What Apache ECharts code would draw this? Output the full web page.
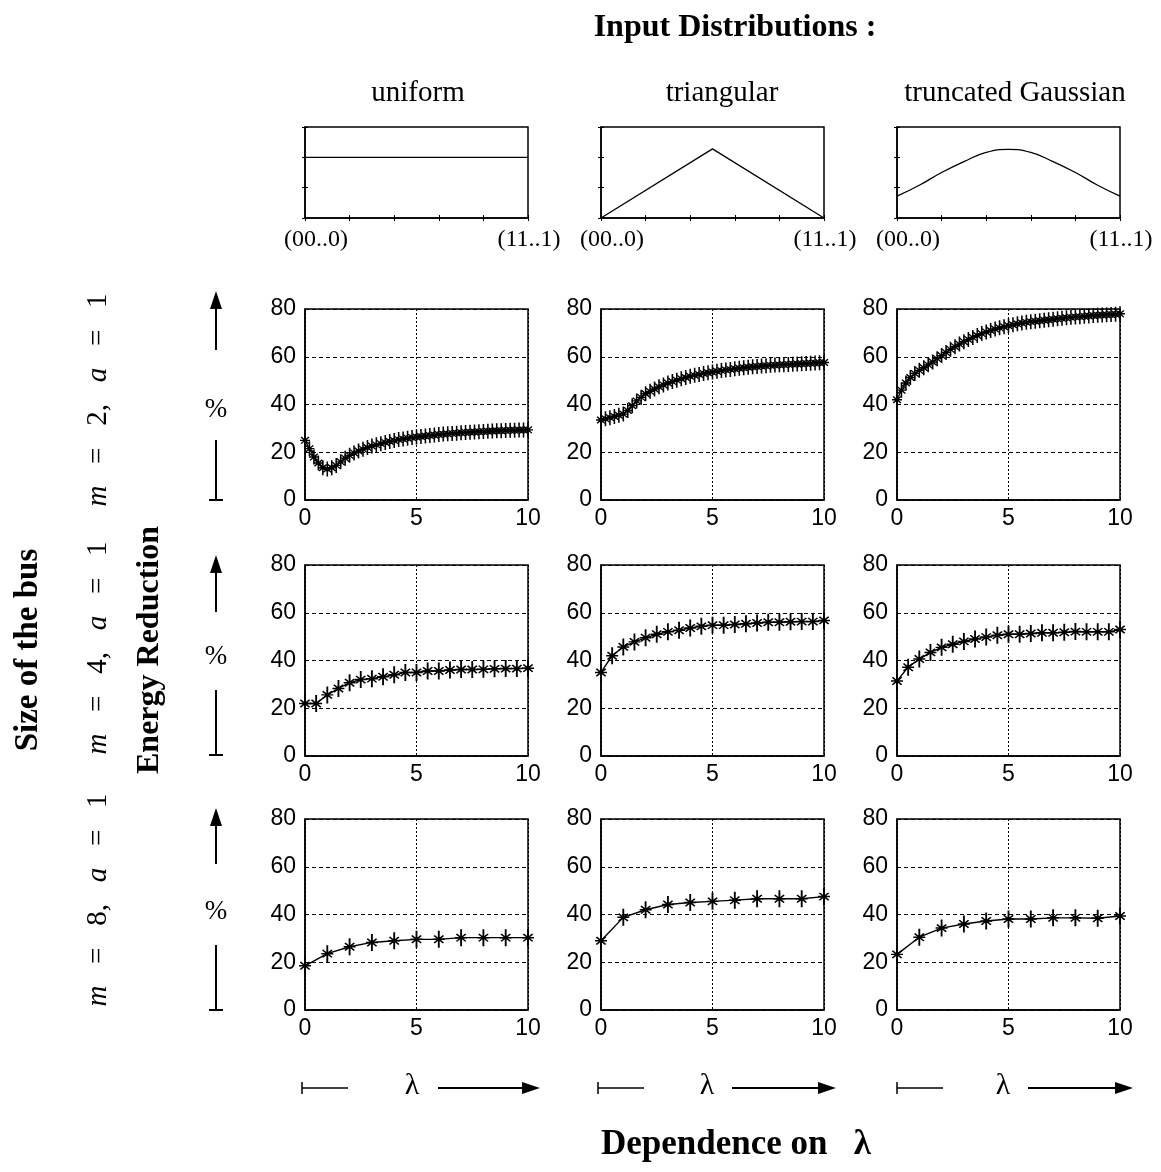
<!DOCTYPE html>
<html><head><meta charset="utf-8">
<script src="https://cdn.jsdelivr.net/npm/echarts@6/dist/echarts.min.js"></script>
<style>html,body{margin:0;padding:0;background:#fff}#c{width:1161px;height:1172px}</style>
</head><body><div id="c"></div>
<script>
// ---------------- data ----------------
const lambdaFine = [0,0.2,0.4,0.6,0.8,1,1.2,1.4,1.6,1.8,2,2.2,2.4,2.6,2.8,3,3.2,3.4,3.6,3.8,4,4.2,4.4,4.6,4.8,5,5.2,5.4,5.6,5.8,6,6.2,6.4,6.6,6.8,7,7.2,7.4,7.6,7.8,8,8.2,8.4,8.6,8.8,9,9.2,9.4,9.6,9.8,10];
const lambdaMid = [0,0.5,1,1.5,2,2.5,3,3.5,4,4.5,5,5.5,6,6.5,7,7.5,8,8.5,9,9.5,10];
const lambdaCoarse = [0,1,2,3,4,5,6,7,8,9,10];

const uniformM2 = [25,21.5,18,15.5,13.5,13,13.5,14.5,16,17.5,18.7,19.7,20.5,21.3,22,22.6,23.1,23.6,24.1,24.5,24.9,25.3,25.6,25.9,26.2,26.4,26.6,26.8,27,27.2,27.4,27.6,27.7,27.9,28,28.2,28.3,28.4,28.5,28.6,28.7,28.8,28.9,29,29,29.1,29.2,29.2,29.3,29.3,29.4];
const triangularM2 = [33.5,34,34.5,35,35.5,36,37.5,39.5,41.5,43,44.5,45.5,46.5,47.4,48.2,49,49.6,50.2,50.8,51.3,51.8,52.2,52.6,53,53.3,53.6,53.9,54.2,54.5,54.7,55,55.2,55.4,55.6,55.8,55.9,56.1,56.2,56.4,56.5,56.6,56.7,56.8,56.9,57,57.1,57.2,57.3,57.4,57.5,57.6];
const gaussianM2 = [42,46,49,51.3,53,54.3,55.4,56.6,57.8,59.2,60.5,61.8,63.1,64.2,65.3,66.3,67.2,68.1,68.9,69.7,70.4,71,71.6,72.1,72.6,73,73.4,73.8,74.1,74.4,74.7,74.9,75.1,75.3,75.5,75.7,75.9,76.1,76.3,76.5,76.7,76.8,77,77.1,77.3,77.4,77.5,77.6,77.7,77.8,78];

const uniformM4 = [22,22,25.6,28.3,30.7,32,32.4,33.2,34,35,35,35.6,35.6,36,36.2,36.2,36.3,36.5,36.6,36.6,36.8];
const triangularM4 = [35,42,45.7,47.8,49.5,51,52,52.7,53.6,54.3,54.8,54.8,55.1,55.4,55.7,56,56,56.2,56.3,56.3,56.8];
const gaussianM4 = [31.4,37.2,40.6,43.4,45.5,46.8,48,49,49.8,50.6,51,51,51.3,51.6,51.6,51.8,52.1,52,52,52,53];

const uniformM8 = [18.5,23.6,26.5,28.3,29,29.6,29.6,30.3,30.3,30.3,30.3];
const triangularM8 = [29,38.8,42,44.2,45,45.5,46,46.6,46.6,46.6,47.5];
const gaussianM8 = [23.3,30.5,34.3,36,37.3,38.1,38.1,38.6,38.6,38.4,39.4];

const xTicks = [0,5,10];
const yTicks = [0,20,40,60,80];

// input distributions (top row)
const distNames = ['uniform','triangular','truncated Gaussian'];
const distTickLabels = ['(00..0)','(11..1)'];
const uniformPdfX = [0,1];
const uniformPdfY = [1,1];
const triangularPdfX = [0,0.5,1];
const triangularPdfY = [0,1.14,0];
const gaussianPdfX = [0,0.1,0.2,0.3,0.4,0.5,0.6,0.7,0.8,0.9,1];
const gaussianPdfY = [0.36,0.54,0.75,0.93,1.08,1.13,1.08,0.93,0.75,0.54,0.36];

const busSizes = ['2','4','8'];

// ---------------- layout / style ----------------
const colLeft = [305,601,897];
const rowTop = [309,565,819];
const plotW = 223, plotH = 191;
const distTop = 127, distH = 91;
const SERIF = '"Liberation Serif","Times New Roman",serif';
const SANS = '"Liberation Sans",Arial,Helvetica,sans-serif';
const STAR = 'path://M4.3,0L5.7,0L5.7,16L4.3,16Z M0.5,7.3L9.5,7.3L9.5,8.7L0.5,8.7Z M1.04,4.96L1.96,4.04L8.96,11.04L8.04,11.96Z M8.04,4.04L8.96,4.96L1.96,11.96L1.04,11.04Z';

const panels = [
  [[lambdaFine,uniformM2],[lambdaFine,triangularM2],[lambdaFine,gaussianM2]],
  [[lambdaMid,uniformM4],[lambdaMid,triangularM4],[lambdaMid,gaussianM4]],
  [[lambdaCoarse,uniformM8],[lambdaCoarse,triangularM8],[lambdaCoarse,gaussianM8]]
];
const dists = [[uniformPdfX,uniformPdfY,false],[triangularPdfX,triangularPdfY,false],[gaussianPdfX,gaussianPdfY,true]];

const grids=[], xAxes=[], yAxes=[], series=[];
function addGrid(g){
  grids.push(Object.assign({show:true,borderColor:'#000',borderWidth:1.5,backgroundColor:'#fff',containLabel:false,outerBoundsMode:'none'},g));
  return grids.length-1;
}
const zip = (xs,ys)=>xs.map((x,k)=>[x,ys[k]]);

// main 3x3 panels
for(let r=0;r<3;r++){
  for(let c=0;c<3;c++){
    const gi = addGrid({left:colLeft[c],top:rowTop[r],width:plotW,height:plotH});
    const xi = xAxes.push({type:'value',gridIndex:gi,min:xTicks[0],max:xTicks[xTicks.length-1],interval:xTicks[1]-xTicks[0],
      axisLine:{show:true,onZero:false,lineStyle:{color:'#000',width:1.5}},
      axisTick:{show:false},
      axisLabel:{color:'#000',fontSize:23,fontFamily:SANS,margin:7},
      splitLine:{show:true,lineStyle:{color:'#000',width:1,type:[2,2]}}})-1;
    const yi = yAxes.push({type:'value',gridIndex:gi,min:yTicks[0],max:yTicks[yTicks.length-1],interval:yTicks[1]-yTicks[0],
      axisLine:{show:true,onZero:false,lineStyle:{color:'#000',width:1.5}},
      axisTick:{show:false},
      axisLabel:{color:'#000',fontSize:23,fontFamily:SANS,margin:9},
      splitLine:{show:true,lineStyle:{color:'#000',width:1,type:[4,3]}}})-1;
    const [xs,ys] = panels[r][c];
    series.push({type:'line',xAxisIndex:xi,yAxisIndex:yi,data:zip(xs,ys),
      symbol:STAR,symbolSize:r===0?[10,15]:[12,17],showAllSymbol:true,
      itemStyle:{color:'#000'},lineStyle:{color:'#000',width:1.4},silent:true,z:3});
  }
}

// top distribution panels
for(let c=0;c<3;c++){
  const gi = addGrid({left:colLeft[c],top:distTop,width:plotW,height:distH});
  const xi = xAxes.push({type:'value',gridIndex:gi,min:0,max:1,interval:0.2,position:'bottom',
    axisLine:{show:true,onZero:false,lineStyle:{color:'#000',width:1.5}},
    axisTick:{show:true,inside:true,length:3,lineStyle:{color:'#000'}},
    axisLabel:{show:false},
    splitLine:{show:false}})-1;
  xAxes.push({type:'value',gridIndex:gi,min:0,max:1,interval:0.2,position:'top',
    axisLine:{show:false},axisTick:{show:true,inside:true,length:3,lineStyle:{color:'#000'}},
    axisLabel:{show:false},splitLine:{show:false}});
  const yi = yAxes.push({type:'value',gridIndex:gi,min:0,max:1.5,interval:0.5,position:'left',
    axisLine:{show:true,onZero:false,lineStyle:{color:'#000',width:1.5}},
    axisTick:{show:true,inside:true,length:3,lineStyle:{color:'#000'}},
    axisLabel:{show:false},splitLine:{show:false}})-1;
  yAxes.push({type:'value',gridIndex:gi,min:0,max:1.5,interval:0.5,position:'right',
    axisLine:{show:false},axisTick:{show:true,inside:true,length:3,lineStyle:{color:'#000'}},
    axisLabel:{show:false},splitLine:{show:false}});
  const [dx,dy,smooth] = dists[c];
  series.push({type:'line',xAxisIndex:xi,yAxisIndex:yi,data:zip(dx,dy),smooth:smooth,
    symbol:'none',lineStyle:{color:'#000',width:1.3},silent:true});
}

// ---------------- annotations ----------------
const g = [];
function txt(x,y,text,size,opts){
  g.push(Object.assign({type:'text',x:x,y:y,silent:true,
    style:Object.assign({text:text,fontSize:size,fontFamily:SERIF,fill:'#000',align:'center',verticalAlign:'middle'},(opts&&opts.style)||{})},
    (opts&&opts.el)||{}));
}
function line(x1,y1,x2,y2,w){g.push({type:'line',silent:true,shape:{x1,y1,x2,y2},style:{stroke:'#000',lineWidth:w||2}});}
function tri(pts){g.push({type:'polygon',silent:true,shape:{points:pts},style:{fill:'#000'}});}

txt(735,28,'Input Distributions :',32,{style:{fontWeight:'bold'}});
const distLabelX = [418,722,1015];
distNames.forEach((n,i)=>txt(distLabelX[i],93,n,29));
// endpoint labels of the input-distribution boxes
for(let c=0;c<3;c++){
  txt(colLeft[c]+11,240,distTickLabels[0],24);
  txt(colLeft[c]+plotW+1,240,distTickLabels[1],24);
}

txt(28,650,'Size of the bus',33,{style:{fontWeight:'bold'},el:{rotation:Math.PI/2}});
txt(150,650,'Energy Reduction',32,{style:{fontWeight:'bold'},el:{rotation:Math.PI/2}});
const mY = [400,648,900];
busSizes.forEach((m,i)=>{
  g.push({type:'text',x:98,y:mY[i],rotation:Math.PI/2,silent:true,
    style:{text:'{i|m}{n|   =   '+m+',   }{i|a}{n|   =   1}',align:'center',verticalAlign:'middle',fill:'#000',
      rich:{i:{fontStyle:'italic',fontSize:29,fontFamily:SERIF,fill:'#000'},n:{fontSize:29,fontFamily:SERIF,fill:'#000'}}}});
});

// % arrows
const arrowTip=[291,555,808], shaftEnd=[350,612,864], pctY=[410,657,912], barTop=[440,690,945], barBot=[500,755,1010];
const ax = 216;
for(let r=0;r<3;r++){
  tri([[ax,arrowTip[r]],[ax-6,arrowTip[r]+18],[ax+6,arrowTip[r]+18]]);
  line(ax,arrowTip[r]+14,ax,shaftEnd[r]);
  txt(ax,pctY[r],'%',27);
  line(ax,barTop[r],ax,barBot[r]);
  line(ax-7,barBot[r],ax+7,barBot[r]);
}

// lambda arrows
const lamY = 1088;
const lamStart=[302,598,897], lamX=[412,707,1003], lamArrowStart=[438,732,1028], lamTip=[540,836,1133];
for(let c=0;c<3;c++){
  line(lamStart[c],lamY-6,lamStart[c],lamY+6,1.5);
  line(lamStart[c],lamY,lamStart[c]+46,lamY,1.5);
  txt(lamX[c],lamY-2,'λ',30);
  line(lamArrowStart[c],lamY,lamTip[c]-14,lamY,2);
  tri([[lamTip[c],lamY],[lamTip[c]-18,lamY-6],[lamTip[c]-18,lamY+6]]);
}
txt(736,1145,'Dependence on   λ',35,{style:{fontWeight:'bold'}});

const chart = echarts.init(document.getElementById('c'),null,{renderer:'canvas'});
chart.setOption({
  backgroundColor:'#fff',
  animation:false,
  grid:grids, xAxis:xAxes, yAxis:yAxes, series:series,
  graphic:{elements:g}
});
</script></body></html>
